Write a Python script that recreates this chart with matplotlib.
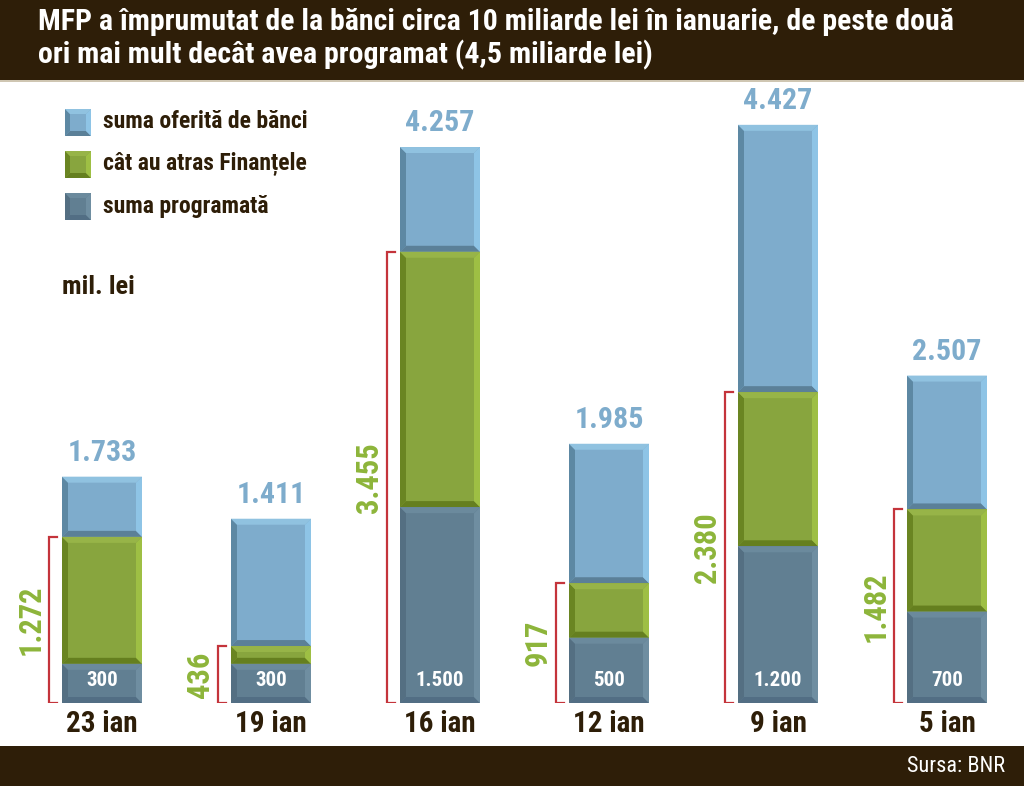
import matplotlib.pyplot as plt
from matplotlib.patches import Polygon, Rectangle

zile = ["23 ian", "19 ian", "16 ian", "12 ian", "9 ian", "5 ian"]
oferit = [1733, 1411, 4257, 1985, 4427, 2507]
atras = [1272, 436, 3455, 917, 2380, 1482]
programat = [300, 300, 1500, 500, 1200, 700]

legenda = ["suma oferită de bănci", "cât au atras Finanțele", "suma programată"]

FONT = ["Roboto Condensed", "DejaVu Sans"]
MARO = "#2e1e08"

# face, left, bottom, right, top
C_BLUE = ("#7eaccc", "#5d88a3", "#5b8098", "#8ec4e6", "#90c2e0")
C_GREEN = ("#88a53e", "#6a8522", "#657f1f", "#9ebf44", "#97b448")
C_SLATE = ("#617f92", "#546f82", "#526e84", "#6f8ea1", "#6b8a9d")


def fmt(v):
    return f"{v:,}".replace(",", ".")


def bevel(ax, x0, x1, y0, y1, cols, bx, by, transform=None):
    tr = transform if transform is not None else ax.transData
    face, left, bottom, right, top = cols
    ax.add_patch(Rectangle((x0, y0), x1 - x0, y1 - y0, facecolor=face,
                           edgecolor="none", transform=tr))
    ix0, ix1, iy0, iy1 = x0 + bx, x1 - bx, y0 + by, y1 - by
    polys = [
        ([(x0, y0), (ix0, iy0), (ix0, iy1), (x0, y1)], left),
        ([(x0, y0), (x1, y0), (ix1, iy0), (ix0, iy0)], bottom),
        ([(x1, y0), (x1, y1), (ix1, iy1), (ix1, iy0)], right),
        ([(x0, y1), (ix0, iy1), (ix1, iy1), (x1, y1)], top),
    ]
    for pts, c in polys:
        ax.add_patch(Polygon(pts, closed=True, facecolor=c, edgecolor="none",
                             transform=tr))


fig = plt.figure(figsize=(10.24, 7.86), dpi=100)
fig.patch.set_facecolor("white")

# header / footer
fig.patches.append(Rectangle((0, 1 - 80 / 786), 1, 80 / 786, facecolor=MARO,
                             edgecolor="none", transform=fig.transFigure, zorder=0))
fig.patches.append(Rectangle((0, 1 - 82 / 786), 1, 2 / 786, facecolor="#cfc6b2",
                             edgecolor="none", transform=fig.transFigure, zorder=0))
fig.patches.append(Rectangle((0, 0), 1, 40 / 786, facecolor=MARO,
                             edgecolor="none", transform=fig.transFigure, zorder=0))
fig.text(38 / 1024, 1 - 22 / 786,
         "MFP a împrumutat de la bănci circa 10 miliarde lei în ianuarie, de peste două",
         color="white", fontsize=21.5, fontweight="bold", family=FONT, va="center")
fig.text(38 / 1024, 1 - 55 / 786,
         "ori mai mult decât avea programat (4,5 miliarde lei)",
         color="white", fontsize=21.5, fontweight="bold", family=FONT, va="center")
fig.text(1005 / 1024, 1 - 767 / 786, "Sursa: BNR", color="white", fontsize=16,
         family=FONT, ha="right", va="center")

# main axes: baseline at pixel 703, top at pixel 84
ax = fig.add_axes([0, 83 / 786, 1, 619 / 786])
ax.set_xlim(-102 / 169, (1024 - 102) / 169)
ax.set_ylim(0, 619 / 0.1306)
ax.axis("off")
ax.patch.set_alpha(0)

w = 80 / 169
bx = 6 / 169
by = 6 / 0.1306
for i, z in enumerate(zile):
    x0, x1 = i - w / 2, i + w / 2
    bevel(ax, x0, x1, atras[i], oferit[i], C_BLUE, bx, by)
    bevel(ax, x0, x1, programat[i], atras[i], C_GREEN, bx, by)
    bevel(ax, x0, x1, 0, programat[i], C_SLATE, bx, by)

    ax.annotate(fmt(oferit[i]), (i, oferit[i]), xytext=(0, 7), textcoords="offset points",
                ha="center", va="bottom", color="#7eaccc", fontsize=21.5,
                fontweight="bold", family=FONT)
    ax.annotate(fmt(programat[i]), (i, 0), xytext=(0, 16), textcoords="offset points",
                ha="center", va="center", color="white", fontsize=15,
                fontweight="bold", family=FONT)
    ax.annotate(z, (i, 0), xytext=(0, -15), textcoords="offset points",
                ha="center", va="center", color=MARO, fontsize=21,
                fontweight="bold", family=FONT)

    # red bracket for the attracted amount
    bxl = x0 - 13 / 169
    bxr = x0 - 5 / 169
    ax.plot([bxr, bxl, bxl, bxr], [0, 0, atras[i], atras[i]], color="#c4343b",
            lw=1.6, solid_joinstyle="miter")
    ax.text(x0 - 31 / 169, atras[i] / 2, fmt(atras[i]), rotation=90, ha="center",
            va="center", color="#8db53a", fontsize=22, fontweight="bold", family=FONT)

# legend
leg_cols = [C_BLUE, C_GREEN, C_SLATE]
for k, (lab, cols) in enumerate(zip(legenda, leg_cols)):
    ytop = 109 + k * 42
    y0 = 1 - (ytop + 27) / 786
    y1 = 1 - ytop / 786
    bevel(ax, 65 / 1024, 91 / 1024, y0, y1, cols, 5 / 1024, 5 / 786,
          transform=fig.transFigure)
    fig.text(103 / 1024, 1 - (ytop + 13) / 786, lab, color=MARO, fontsize=17,
             fontweight="bold", family=FONT, va="center")

fig.text(62 / 1024, 1 - 287 / 786, "mil. lei", color=MARO, fontsize=19,
         fontweight="bold", family=FONT, va="center")

fig.savefig("out.png", dpi=100)
